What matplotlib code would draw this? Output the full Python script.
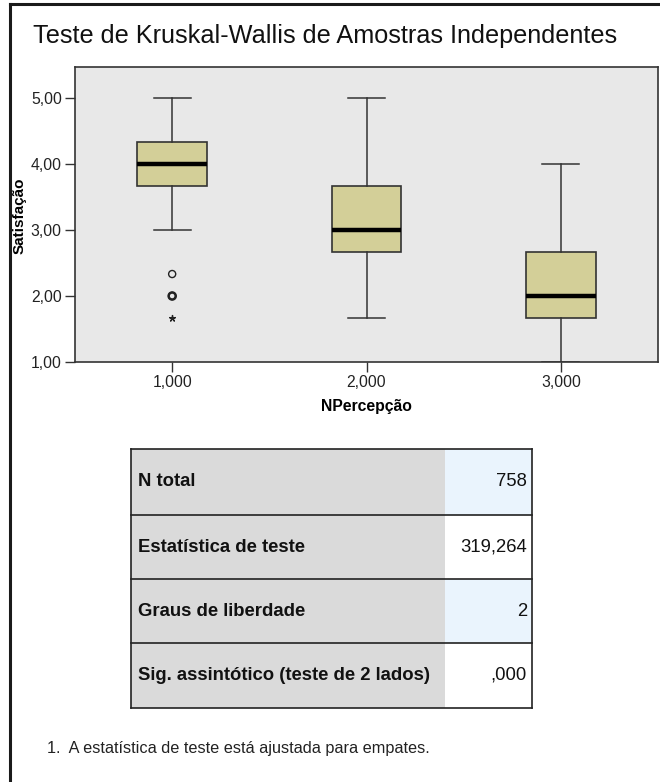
import matplotlib
matplotlib.use("Agg")
import matplotlib.pyplot as plt
from matplotlib.patches import Rectangle
from matplotlib.lines import Line2D

plt.rcParams['font.family'] = ['Liberation Sans', 'DejaVu Sans']

# ---- data ----
groups = ["1,000", "2,000", "3,000"]
positions = [1, 2, 3]
medians = [4.0, 3.0, 2.0]
q1 = [3.667, 2.667, 1.667]
q3 = [4.333, 3.667, 2.667]
whisk_lo = [3.0, 1.667, 1.0]
whisk_hi = [5.0, 5.0, 4.0]
outlier_x = [1, 1]
outlier_y = [2.333, 2.0]
extreme_x = [1]
extreme_y = [1.667]
yticks = [1.0, 2.0, 3.0, 4.0, 5.0]
ytick_labels = ["1,00", "2,00", "3,00", "4,00", "5,00"]

table_labels = ["N total", "Estatística de teste", "Graus de liberdade",
                "Sig. assintótico (teste de 2 lados)"]
table_values = ["758", "319,264", "2", ",000"]

title = "Teste de Kruskal-Wallis de Amostras Independentes"
xlabel = "NPercepção"
ylabel = "Satisfação"
footnote = "1.  A estatística de teste está ajustada para empates."

W, H = 660, 782
fig = plt.figure(figsize=(W / 100, H / 100), dpi=100)
fig.patch.set_facecolor("white")


def fx(px):
    return px / W


def fy(py):
    return 1 - py / H


# outer frame (left and top visible)
fig.add_artist(Line2D([fx(10), fx(10)], [fy(4), fy(790)], color="#1a1a1a", lw=2.2))
fig.add_artist(Line2D([fx(10), fx(670)], [fy(4), fy(4)], color="#1a1a1a", lw=2.2))

fig.text(fx(33), fy(36), title, fontsize=18.2, ha="left", va="center", color="#111111")

# ---- box plot ----
ax = fig.add_axes([fx(75), fy(362), fx(658 - 75), (362 - 67) / H])
ax.set_facecolor("#e8e8e8")
stats = []
for i in range(len(groups)):
    stats.append(dict(med=medians[i], q1=q1[i], q3=q3[i], whislo=whisk_lo[i],
                      whishi=whisk_hi[i], fliers=[]))
ax.bxp(stats, positions=positions, widths=0.36, patch_artist=True,
       showfliers=False,
       boxprops=dict(facecolor="#d3cf98", edgecolor="#333333", linewidth=1.2),
       medianprops=dict(color="black", linewidth=3.2),
       whiskerprops=dict(color="#333333", linewidth=1.1),
       capprops=dict(color="#333333", linewidth=1.1),
       capwidths=0.19)
ax.scatter(outlier_x, outlier_y, s=26, facecolors="none", edgecolors="#222222",
           linewidths=1.0, zorder=5)
ax.scatter(outlier_x[1:], outlier_y[1:], s=26, facecolors="none", edgecolors="#222222",
           linewidths=1.8, zorder=5)
ax.scatter(extreme_x, extreme_y, s=18, marker=(5, 2, 0), color="#222222",
           linewidths=1.0, zorder=5)

ax.set_xlim(0.5, 3.5)
ax.set_ylim(1.0, 5.47)
ax.set_xticks(positions)
ax.set_xticklabels(groups, fontsize=11.3, color="#222222")
ax.set_yticks(yticks)
ax.set_yticklabels(ytick_labels, fontsize=11.3, color="#222222")
ax.tick_params(length=7.5, width=1, color="#333333", pad=2)
for sp in ax.spines.values():
    sp.set_color("#333333")
    sp.set_linewidth(1.2)

fig.text(fx(19.5), fy(216), ylabel, rotation=90, fontsize=11, fontweight="bold",
         ha="center", va="center")
fig.text(fx(366), fy(407), xlabel, fontsize=11.3, fontweight="bold",
         ha="center", va="center")

# ---- table ----
tx0, tx1, tsplit = 131, 532, 445
row_edges = [449, 515, 579, 643, 708]
tax = fig.add_axes([fx(tx0), fy(row_edges[-1]), fx(tx1 - tx0), (row_edges[-1] - row_edges[0]) / H])
tax.set_xlim(tx0, tx1)
tax.set_ylim(row_edges[-1], row_edges[0])
tax.axis("off")
value_bg = ["#eaf4fd", "white", "#eaf4fd", "white"]
for i, (lab, val) in enumerate(zip(table_labels, table_values)):
    y0, y1 = row_edges[i], row_edges[i + 1]
    tax.add_patch(Rectangle((tx0, y0), tsplit - tx0, y1 - y0, facecolor="#dadada",
                            edgecolor="none"))
    tax.add_patch(Rectangle((tsplit, y0), tx1 - tsplit, y1 - y0, facecolor=value_bg[i],
                            edgecolor="none"))
    tax.text(tx0 + 7, (y0 + y1) / 2, lab, fontsize=13.3, fontweight="bold",
             ha="left", va="center", color="#111111")
    tax.text(tx1 - 5, (y0 + y1) / 2, val, fontsize=13.3, ha="right", va="center",
             color="#111111")
for y in row_edges:
    tax.plot([tx0, tx1], [y, y], color="#222222", lw=1.2, clip_on=False)
tax.plot([tx0, tx0], [row_edges[0], row_edges[-1]], color="#222222", lw=1.2, clip_on=False)
tax.plot([tx1, tx1], [row_edges[0], row_edges[-1]], color="#222222", lw=1.2, clip_on=False)

fig.text(fx(47), fy(748), footnote, fontsize=11.7, ha="left", va="center", color="#222222")

fig.savefig("out.png", dpi=100)
